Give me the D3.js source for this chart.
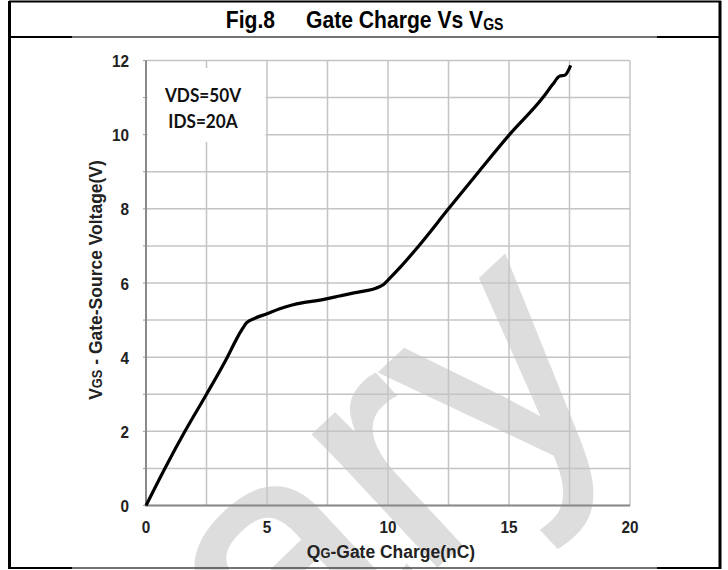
<!DOCTYPE html>
<html>
<head>
<meta charset="utf-8">
<script src="https://cdn.jsdelivr.net/npm/d3@7"></script>
<style>
  body { margin: 0; background: #fff; }
  .narrow { font-family: "Liberation Sans", Arial, sans-serif; font-weight: bold; }
</style>
</head>
<body>
<div id="chart"></div>
<script>
// svg size
var svgWidth = 728;
var svgHeight = 570;

// data
var qg  = [0, 0.78, 1.61, 2.5, 3.36, 3.75, 4.0, 4.16, 4.5, 5.0, 5.5, 6.0, 6.5, 7.0, 7.5, 8.0, 8.5, 9.0, 9.5, 9.8, 10.0, 10.5, 11.27, 12.5, 13.75, 15.02, 16.4, 16.8, 17.1, 17.3, 17.55];
var vgs = [0, 1, 2, 3, 4, 4.5, 4.78, 4.93, 5.05, 5.17, 5.3, 5.4, 5.47, 5.52, 5.58, 5.65, 5.72, 5.78, 5.86, 5.95, 6.08, 6.42, 7, 8, 9, 10, 11, 11.35, 11.58, 11.6, 11.87];

// ticks
var xTicks = [0, 5, 10, 15, 20];
var yTicks = [0, 2, 4, 6, 8, 10, 12];
var xGrid = [0, 2.5, 5, 7.5, 10, 12.5, 15, 17.5, 20];
var yGrid = [0, 1, 2, 3, 4, 5, 6, 7, 8, 9, 10, 11, 12];
var notes = ["VDS=50V", "IDS=20A"];

// plot area
var plot = { left: 146, right: 630, top: 60.5, bottom: 505.5 };

var svg = d3.select("#chart").append("svg")
    .attr("width", svgWidth)
    .attr("height", svgHeight);

svg.append("rect").attr("width", svgWidth).attr("height", svgHeight).attr("fill", "#fff");

// scales
var xscale = d3.scaleLinear().domain([0, 20]).range([plot.left, plot.right]);
var yscale = d3.scaleLinear().domain([0, 12]).range([plot.bottom, plot.top]);

// watermark behind everything
svg.append("text")
    .attr("transform", "translate(282,710) rotate(-43)")
    .style("font-family", "Liberation Sans, sans-serif")
    .style("font-size", "340px")
    .attr("fill", "#dddddd")
    .attr("stroke", "#dddddd")
    .attr("stroke-width", 4)
    .text("ary");

// grid
svg.append("g").selectAll("line").data(xGrid).enter().append("line")
    .attr("x1", d => xscale(d)).attr("x2", d => xscale(d))
    .attr("y1", plot.top).attr("y2", plot.bottom)
    .attr("stroke", "#c4c4c4").attr("stroke-width", 1.5);
svg.append("g").selectAll("line").data(yGrid).enter().append("line")
    .attr("x1", plot.left).attr("x2", plot.right)
    .attr("y1", d => yscale(d)).attr("y2", d => yscale(d))
    .attr("stroke", "#c4c4c4").attr("stroke-width", 1.5);

// little ticks on the left axis
svg.append("g").selectAll("line").data(yGrid).enter().append("line")
    .attr("x1", plot.left - 3).attr("x2", plot.left)
    .attr("y1", d => yscale(d)).attr("y2", d => yscale(d))
    .attr("stroke", "#999").attr("stroke-width", 1);

// box behind the conditions text
svg.append("rect")
    .attr("x", plot.left + 1.5).attr("y", 68)
    .attr("width", 118).attr("height", 74)
    .attr("fill", "#fff");

// axis lines
svg.append("line")
    .attr("x1", plot.left).attr("x2", plot.left)
    .attr("y1", plot.top).attr("y2", plot.bottom + 1)
    .attr("stroke", "#8a8a8a").attr("stroke-width", 2);
svg.append("line")
    .attr("x1", plot.left).attr("x2", plot.right)
    .attr("y1", plot.bottom).attr("y2", plot.bottom)
    .attr("stroke", "#8a8a8a").attr("stroke-width", 2);

// tick labels (squeezed a little, the original font is condensed)
svg.append("g").selectAll("text").data(yTicks).enter().append("text")
    .attr("class", "narrow")
    .attr("transform", d => `translate(129,${yscale(d) + 6.5}) scale(0.9,1)`)
    .attr("text-anchor", "end")
    .style("font-size", "17px")
    .attr("fill", "#222")
    .text(d => d);
svg.append("g").selectAll("text").data(xTicks).enter().append("text")
    .attr("class", "narrow")
    .attr("transform", d => `translate(${xscale(d)},533) scale(0.9,1)`)
    .attr("text-anchor", "middle")
    .style("font-size", "17px")
    .attr("fill", "#222")
    .text(d => d);

// curve
var line = d3.line()
    .x(d => xscale(d[0]))
    .y(d => yscale(d[1]))
    .curve(d3.curveMonotoneX);
svg.append("path")
    .datum(d3.zip(qg, vgs))
    .attr("d", line)
    .attr("fill", "none")
    .attr("stroke", "#000")
    .attr("stroke-width", 3.2)
    .attr("stroke-linejoin", "round");

// conditions text
svg.append("g").selectAll("text").data(notes).enter().append("text")
    .attr("transform", (d, i) => `translate(203,${102 + i * 26}) scale(0.88,1)`)
    .attr("text-anchor", "middle")
    .style("font-family", "Lato, sans-serif")
    .style("font-weight", "bold")
    .style("font-size", "19.5px")
    .attr("fill", "#111")
    .text(d => d);

// axis titles
var xt = svg.append("text")
    .attr("class", "narrow")
    .attr("transform", "translate(391,558) scale(0.92,1)")
    .attr("text-anchor", "middle")
    .style("font-size", "19px")
    .attr("fill", "#222");
xt.append("tspan").text("Q");
xt.append("tspan").style("font-size", "14px").text("G");
xt.append("tspan").text("-Gate Charge(nC)");

var yt = svg.append("text")
    .attr("class", "narrow")
    .attr("transform", "translate(102,280) rotate(-90) scale(0.92,1)")
    .attr("text-anchor", "middle")
    .style("font-size", "19px")
    .attr("fill", "#222");
yt.append("tspan").text("V");
yt.append("tspan").style("font-size", "14px").text("GS");
yt.append("tspan").text(" - Gate-Source Voltage(V)");

// title
svg.append("text")
    .attr("class", "narrow")
    .attr("transform", "translate(275,28) scale(0.88,1)")
    .attr("text-anchor", "end")
    .style("font-size", "24px")
    .text("Fig.8");
var tt = svg.append("text")
    .attr("class", "narrow")
    .attr("transform", "translate(306,28) scale(0.88,1)")
    .style("font-size", "24px");
tt.append("tspan").text("Gate Charge Vs V");
tt.append("tspan").style("font-size", "16px").attr("dy", 2).text("GS");

// frame
var frame = svg.append("g").attr("fill", "none");
frame.append("line").attr("x1", 9).attr("x2", 721).attr("y1", 1.5).attr("y2", 1.5)
    .attr("stroke", "#000").attr("stroke-width", 2);
frame.append("line").attr("x1", 9.5).attr("x2", 9.5).attr("y1", 1).attr("y2", 569)
    .attr("stroke", "#000").attr("stroke-width", 3);
frame.append("line").attr("x1", 720).attr("x2", 720).attr("y1", 1).attr("y2", 569)
    .attr("stroke", "#000").attr("stroke-width", 3);
// under the title and at the bottom: black ends, grey middle
[37, 568].forEach(function(yy) {
    frame.append("line").attr("x1", 9).attr("x2", 72).attr("y1", yy).attr("y2", yy)
        .attr("stroke", "#000").attr("stroke-width", 2);
    frame.append("line").attr("x1", 72).attr("x2", 657).attr("y1", yy).attr("y2", yy)
        .attr("stroke", "#444").attr("stroke-width", 1.5);
    frame.append("line").attr("x1", 657).attr("x2", 721).attr("y1", yy).attr("y2", yy)
        .attr("stroke", "#000").attr("stroke-width", 2);
});
</script>
</body>
</html>
